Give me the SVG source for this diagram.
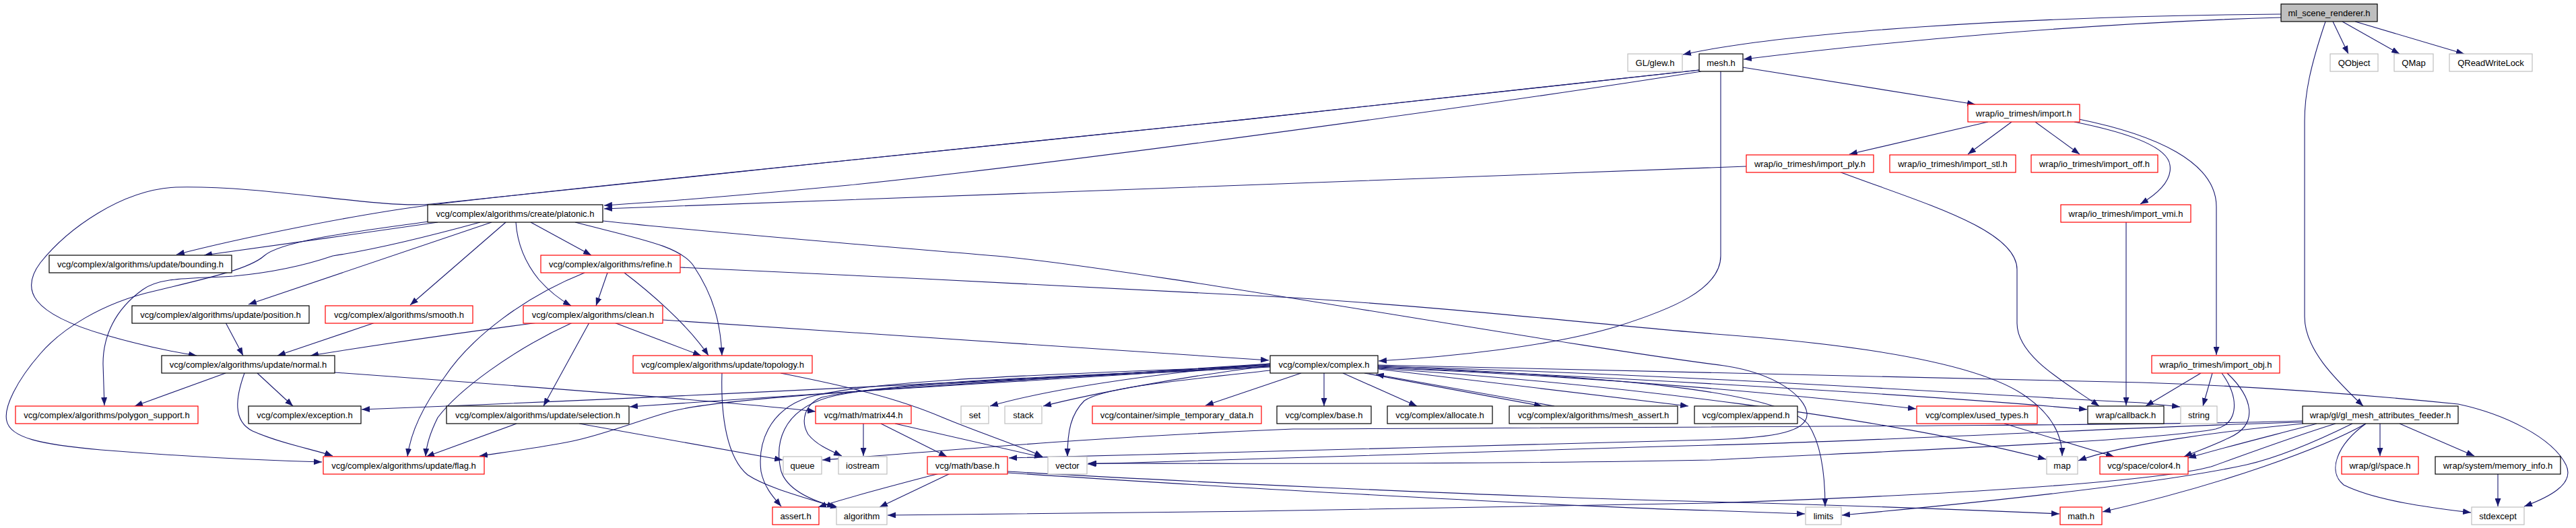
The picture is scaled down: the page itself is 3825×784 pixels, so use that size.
<svg xmlns="http://www.w3.org/2000/svg" width="3825" height="784" viewBox="0 0 3825 784">
<style>
.nd rect{fill:#fff;stroke:#000;stroke-width:1.2}
.nd.r rect{stroke:#ff0000}
.nd.g rect{stroke:#bfbfbf}
.nd.root rect{fill:#bfbfbf}
.nd text{font-family:"Liberation Sans",Arial,sans-serif;font-size:13px;text-anchor:middle;fill:#000}
#edges path{fill:none;stroke:#191970;stroke-width:1.1;marker-end:url(#a)}
</style>
<defs>
<marker id="a" viewBox="0 0 12 9" refX="12" refY="4.5" markerWidth="12" markerHeight="9" markerUnits="userSpaceOnUse" orient="auto"><path d="M0,0L12,4.5L0,9z" fill="#191970"/></marker>
</defs>
<rect width="3825" height="784" fill="#fff"/>
<g id="edges">
<path d="M3387,21 C3000,24 2650,48 2499,81"/>
<path d="M3387,26 C3100,34 2800,62 2589,88"/>
<path d="M3464,32 L3487,80"/>
<path d="M3478,32 L3563,80"/>
<path d="M3497,32 L3659,80"/>
<path d="M3453,32 C3430,100 3422,140 3422,180 L3422,470 C3422,520 3470,565 3509,603"/>
<path d="M2588,100 L2933,155"/>
<path d="M2526,106 C2250,150 1600,240 1260,275 C1100,290 980,300 897,305"/>
<path d="M2523,104 C2250,135 1600,205 1260,238 C1000,265 750,290 634,305 C520,320 350,355 262,378"/>
<path d="M2523,104 C2250,135 1600,205 1260,238 C1000,265 760,292 640,303 C560,310 400,275 261,278 C180,282 100,340 60,390 C30,430 45,465 155,497 C200,510 240,520 292,528"/>
<path d="M2555,106 L2555,380 C2555,430 2480,460 2400,485 C2300,515 2150,530 2047,536"/>
<path d="M2952,181 L2746,229"/>
<path d="M2987,181 L2922,229"/>
<path d="M3022,181 L3088,229"/>
<path d="M3080,181 C3150,195 3218,215 3222,245 C3226,270 3200,290 3178,303"/>
<path d="M3087,177 C3200,200 3291,240 3291,307 L3291,527"/>
<path d="M2593,247 C2300,258 1400,292 897,310"/>
<path d="M2731,255 C2850,300 2995,340 2995,400 L2995,480 C2995,530 3070,570 3117,603"/>
<path d="M3157,330 L3157,602"/>
<path d="M3268,554 L3186,603"/>
<path d="M3285,554 L3271,603"/>
<path d="M3299,554 C3325,590 3325,628 3290,637 C3200,655 2800,670 2540,683 C2200,690 1800,688 1616,688"/>
<path d="M3307,554 C3345,590 3355,630 3310,650 C3285,662 3262,670 3243,678"/>
<path d="M650,330 C550,345 400,365 303,379"/>
<path d="M636,329 C560,340 420,355 392,380 C370,400 300,415 230,432 C150,450 90,490 60,525 C25,565 5,605 10,625 C15,650 60,660 150,668 C300,680 400,684 478,686"/>
<path d="M713,330 C640,350 560,370 494,380 C450,395 400,405 347,410 C290,414 240,410 212,430 C170,460 153,500 153,540 L155,602"/>
<path d="M730,330 L369,452"/>
<path d="M751,330 L609,453"/>
<path d="M766,330 C768,360 778,388 800,415 C815,432 830,444 848,454"/>
<path d="M788,330 L878,379"/>
<path d="M854,330 C950,355 1010,365 1030,395 C1060,440 1070,480 1072,528"/>
<path d="M895,328 C1050,345 1300,365 1479,380 C1700,400 2300,510 2560,543 C2640,555 2680,590 2683,613 C2686,640 2640,650 2540,653 C2300,660 1950,668 1700,675 L1498,680"/>
<path d="M1010,397 C1300,410 1700,430 1920,442 C2200,460 2400,485 2560,497 C2800,515 2950,545 3010,590 C3045,615 3062,645 3062,677"/>
<path d="M902,405 L885,454"/>
<path d="M927,405 C960,430 1020,480 1052,528"/>
<path d="M868,405 C780,440 700,500 660,560 C630,600 610,640 605,678"/>
<path d="M335,479 L361,528"/>
<path d="M557,479 L412,528"/>
<path d="M799,479 C700,492 560,512 461,528"/>
<path d="M984,475 C1300,495 1600,515 1884,535"/>
<path d="M912,479 L1041,528"/>
<path d="M875,479 L807,603"/>
<path d="M850,479 C760,520 680,580 650,620 C640,640 633,660 632,678"/>
<path d="M335,554 L200,603"/>
<path d="M382,554 L435,603"/>
<path d="M363,554 C350,590 345,625 375,640 C420,660 470,668 494,677"/>
<path d="M497,553 C800,575 1100,598 1211,611"/>
<path d="M1159,554 C1250,572 1330,590 1400,620 C1460,645 1510,660 1548,678"/>
<path d="M1072,554 C1070,620 1080,680 1110,705 C1140,725 1200,740 1240,753"/>
<path d="M860,629 L1162,683"/>
<path d="M767,629 L633,678"/>
<path d="M1886,541 C1600,560 1000,590 537,608"/>
<path d="M1886,540 C1600,560 1100,590 935,604"/>
<path d="M1886,542 C1500,570 1100,585 1000,610 C960,620 900,645 850,655 C800,665 760,670 712,677"/>
<path d="M1886,543 C1600,555 1300,562 1200,590 C1140,610 1125,660 1130,700 C1135,725 1150,740 1160,752"/>
<path d="M1886,544 C1600,558 1320,566 1230,590 C1160,610 1150,660 1160,700 C1170,730 1210,745 1245,754"/>
<path d="M1886,545 C1600,560 1300,570 1220,590 C1195,600 1188,625 1200,645 C1212,660 1230,668 1250,677"/>
<path d="M1886,540 C1700,555 1550,580 1470,603"/>
<path d="M1886,543 C1750,560 1620,585 1549,603"/>
<path d="M1932,554 L1790,602"/>
<path d="M1886,550 C1750,565 1640,575 1610,595 C1590,615 1585,640 1585,678"/>
<path d="M1966,554 L1966,603"/>
<path d="M1994,554 L2104,603"/>
<path d="M2026,554 L2290,603"/>
<path d="M2308,603 L2043,556"/>
<path d="M2047,548 L2507,603"/>
<path d="M2046,546 C2400,560 2700,590 2845,607"/>
<path d="M2046,545 C2500,565 2900,590 3099,608"/>
<path d="M2046,544 C2500,555 3000,590 3180,598 L3237,604"/>
<path d="M2046,547 C2400,570 2800,620 3038,682"/>
<path d="M2046,543 C2400,560 2640,580 2685,630 C2705,660 2710,710 2710,752"/>
<path d="M2046,542 C2500,552 3000,566 3180,568 C3400,575 3600,595 3650,600 C3720,615 3790,650 3810,690 C3825,720 3780,740 3748,752"/>
<path d="M2976,629 L3139,678"/>
<path d="M3419,625 C3200,632 2500,634 1920,637 C1600,650 1400,670 1221,683"/>
<path d="M3419,627 C3200,632 2800,655 2540,661 C2200,670 1850,684 1615,689"/>
<path d="M3420,629 C3300,640 3150,660 3086,684"/>
<path d="M3440,629 C3380,645 3300,665 3249,680"/>
<path d="M3468,629 C3400,650 3320,680 3283,693 C3200,715 2900,735 2540,747 C2200,755 1700,762 1318,765"/>
<path d="M3493,629 C3430,660 3380,680 3336,690 C3200,720 2900,750 2735,765"/>
<path d="M3513,629 C3450,665 3300,720 3122,760"/>
<path d="M3534,629 L3534,677"/>
<path d="M3563,629 L3674,677"/>
<path d="M3513,629 C3470,660 3455,700 3480,720 C3530,745 3620,755 3669,761"/>
<path d="M3709,703 L3709,752"/>
<path d="M1411,703 L1306,753"/>
<path d="M1395,703 C1330,720 1260,738 1215,753"/>
<path d="M1496,700 C1700,712 2200,737 2540,745 C2800,752 2950,758 3058,763"/>
<path d="M1496,702 C1700,716 2300,752 2540,758 C2600,760 2640,762 2680,763"/>
<path d="M1282,629 L1282,677"/>
<path d="M1308,629 L1406,678"/>
<path d="M1329,629 L1548,679"/>
</g>
<g id="n_ml" class="nd root"><rect x="3387" y="6" width="143" height="26"/><text x="3458.5" y="23.5">ml_scene_renderer.h</text></g>
<g id="n_glew" class="nd g"><rect x="2417" y="80" width="81" height="26"/><text x="2457.5" y="97.5">GL/glew.h</text></g>
<g id="n_mesh" class="nd"><rect x="2523" y="80" width="65" height="26"/><text x="2555.5" y="97.5">mesh.h</text></g>
<g id="n_qobject" class="nd g"><rect x="3460" y="80" width="71" height="26"/><text x="3495.5" y="97.5">QObject</text></g>
<g id="n_qmap" class="nd g"><rect x="3555" y="80" width="58" height="26"/><text x="3584" y="97.5">QMap</text></g>
<g id="n_qrwl" class="nd g"><rect x="3637" y="80" width="123" height="26"/><text x="3698.5" y="97.5">QReadWriteLock</text></g>
<g id="n_import" class="nd r"><rect x="2922" y="155" width="166" height="26"/><text x="3005" y="172.5">wrap/io_trimesh/import.h</text></g>
<g id="n_ply" class="nd r"><rect x="2593" y="230" width="189" height="26"/><text x="2687.5" y="247.5">wrap/io_trimesh/import_ply.h</text></g>
<g id="n_stl" class="nd r"><rect x="2806" y="230" width="187" height="26"/><text x="2899.5" y="247.5">wrap/io_trimesh/import_stl.h</text></g>
<g id="n_off" class="nd r"><rect x="3016" y="230" width="188" height="26"/><text x="3110" y="247.5">wrap/io_trimesh/import_off.h</text></g>
<g id="n_platonic" class="nd"><rect x="635" y="304" width="260" height="26"/><text x="765" y="321.5">vcg/complex/algorithms/create/platonic.h</text></g>
<g id="n_vmi" class="nd r"><rect x="3060" y="304" width="193" height="26"/><text x="3156.5" y="321.5">wrap/io_trimesh/import_vmi.h</text></g>
<g id="n_bounding" class="nd"><rect x="73" y="379" width="271" height="26"/><text x="208.5" y="396.5">vcg/complex/algorithms/update/bounding.h</text></g>
<g id="n_refine" class="nd r"><rect x="803" y="379" width="207" height="26"/><text x="906.5" y="396.5">vcg/complex/algorithms/refine.h</text></g>
<g id="n_position" class="nd"><rect x="196" y="454" width="263" height="26"/><text x="327.5" y="471.5">vcg/complex/algorithms/update/position.h</text></g>
<g id="n_smooth" class="nd r"><rect x="483" y="454" width="219" height="26"/><text x="592.5" y="471.5">vcg/complex/algorithms/smooth.h</text></g>
<g id="n_clean" class="nd r"><rect x="777" y="454" width="207" height="26"/><text x="880.5" y="471.5">vcg/complex/algorithms/clean.h</text></g>
<g id="n_normal" class="nd"><rect x="240" y="528" width="257" height="26"/><text x="368.5" y="545.5">vcg/complex/algorithms/update/normal.h</text></g>
<g id="n_topology" class="nd r"><rect x="940" y="528" width="266" height="26"/><text x="1073" y="545.5">vcg/complex/algorithms/update/topology.h</text></g>
<g id="n_complex" class="nd"><rect x="1886" y="528" width="160" height="26"/><text x="1966" y="545.5">vcg/complex/complex.h</text></g>
<g id="n_obj" class="nd r"><rect x="3195" y="528" width="190" height="26"/><text x="3290" y="545.5">wrap/io_trimesh/import_obj.h</text></g>
<g id="n_polygon" class="nd r"><rect x="23" y="603" width="271" height="26"/><text x="158.5" y="620.5">vcg/complex/algorithms/polygon_support.h</text></g>
<g id="n_exception" class="nd"><rect x="369" y="603" width="167" height="26"/><text x="452.5" y="620.5">vcg/complex/exception.h</text></g>
<g id="n_selection" class="nd"><rect x="663" y="603" width="271" height="26"/><text x="798.5" y="620.5">vcg/complex/algorithms/update/selection.h</text></g>
<g id="n_matrix44" class="nd r"><rect x="1211" y="603" width="142" height="26"/><text x="1282" y="620.5">vcg/math/matrix44.h</text></g>
<g id="n_set" class="nd g"><rect x="1427" y="603" width="41" height="26"/><text x="1447.5" y="620.5">set</text></g>
<g id="n_stack" class="nd g"><rect x="1492" y="603" width="55" height="26"/><text x="1519.5" y="620.5">stack</text></g>
<g id="n_simple" class="nd r"><rect x="1622" y="603" width="251" height="26"/><text x="1747.5" y="620.5">vcg/container/simple_temporary_data.h</text></g>
<g id="n_base" class="nd"><rect x="1896" y="603" width="140" height="26"/><text x="1966" y="620.5">vcg/complex/base.h</text></g>
<g id="n_allocate" class="nd"><rect x="2060" y="603" width="156" height="26"/><text x="2138" y="620.5">vcg/complex/allocate.h</text></g>
<g id="n_meshassert" class="nd"><rect x="2241" y="603" width="250" height="26"/><text x="2366" y="620.5">vcg/complex/algorithms/mesh_assert.h</text></g>
<g id="n_append" class="nd"><rect x="2516" y="603" width="153" height="26"/><text x="2592.5" y="620.5">vcg/complex/append.h</text></g>
<g id="n_usedtypes" class="nd r"><rect x="2846" y="603" width="179" height="26"/><text x="2935.5" y="620.5">vcg/complex/used_types.h</text></g>
<g id="n_callback" class="nd"><rect x="3100" y="603" width="113" height="26"/><text x="3156.5" y="620.5">wrap/callback.h</text></g>
<g id="n_string" class="nd g"><rect x="3238" y="603" width="54" height="26"/><text x="3265" y="620.5">string</text></g>
<g id="n_gl" class="nd"><rect x="3419" y="603" width="231" height="26"/><text x="3534.5" y="620.5">wrap/gl/gl_mesh_attributes_feeder.h</text></g>
<g id="n_flag" class="nd r"><rect x="480" y="678" width="239" height="26"/><text x="599.5" y="695.5">vcg/complex/algorithms/update/flag.h</text></g>
<g id="n_queue" class="nd g"><rect x="1163" y="678" width="57" height="26"/><text x="1191.5" y="695.5">queue</text></g>
<g id="n_iostream" class="nd g"><rect x="1245" y="678" width="72" height="26"/><text x="1281" y="695.5">iostream</text></g>
<g id="n_mathbase" class="nd r"><rect x="1377" y="678" width="119" height="26"/><text x="1436.5" y="695.5">vcg/math/base.h</text></g>
<g id="n_vector" class="nd g"><rect x="1556" y="678" width="58" height="26"/><text x="1585" y="695.5">vector</text></g>
<g id="n_map" class="nd g"><rect x="3039" y="678" width="46" height="26"/><text x="3062" y="695.5">map</text></g>
<g id="n_color4" class="nd r"><rect x="3118" y="678" width="131" height="26"/><text x="3183.5" y="695.5">vcg/space/color4.h</text></g>
<g id="n_space" class="nd r"><rect x="3477" y="678" width="114" height="26"/><text x="3534" y="695.5">wrap/gl/space.h</text></g>
<g id="n_memory" class="nd"><rect x="3616" y="678" width="186" height="26"/><text x="3709" y="695.5">wrap/system/memory_info.h</text></g>
<g id="n_assert" class="nd r"><rect x="1147" y="753" width="69" height="26"/><text x="1181.5" y="770.5">assert.h</text></g>
<g id="n_algorithm" class="nd g"><rect x="1242" y="753" width="75" height="26"/><text x="1279.5" y="770.5">algorithm</text></g>
<g id="n_limits" class="nd g"><rect x="2681" y="753" width="53" height="26"/><text x="2707.5" y="770.5">limits</text></g>
<g id="n_mathh" class="nd r"><rect x="3059" y="753" width="62" height="26"/><text x="3090" y="770.5">math.h</text></g>
<g id="n_stdexcept" class="nd g"><rect x="3670" y="753" width="78" height="26"/><text x="3709" y="770.5">stdexcept</text></g>
</svg>
